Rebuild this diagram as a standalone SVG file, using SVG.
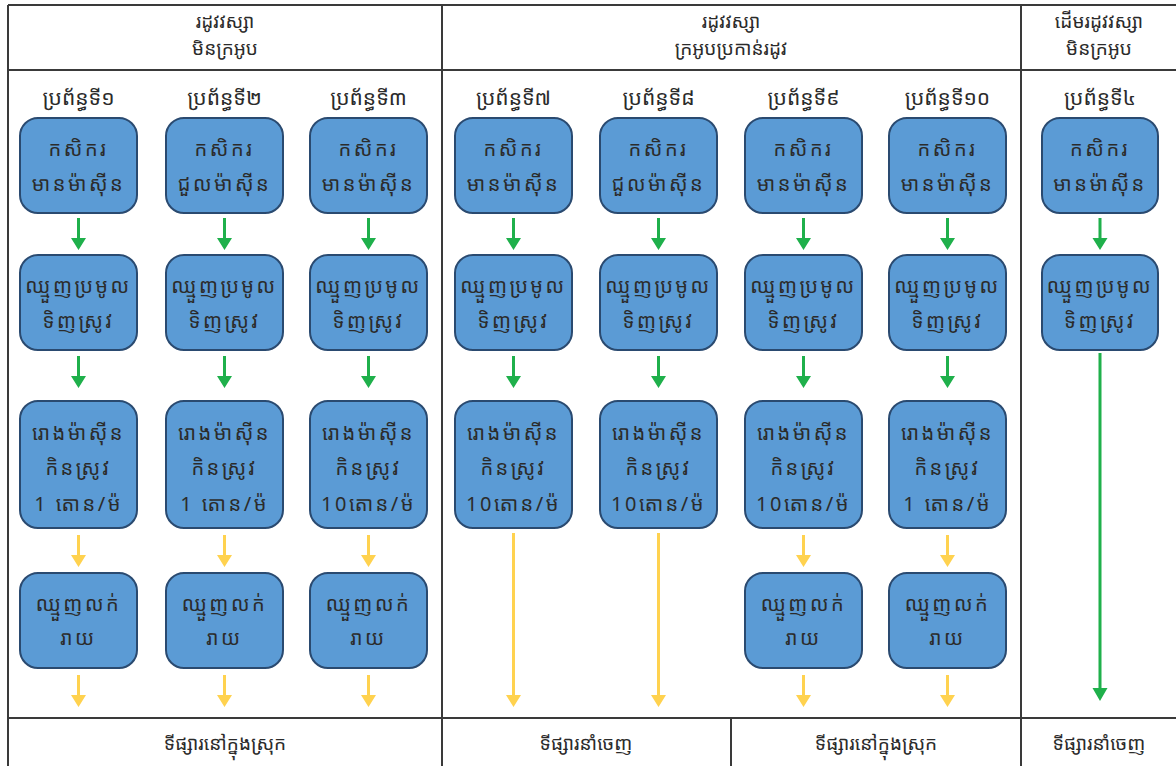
<svg xmlns="http://www.w3.org/2000/svg" width="1176" height="766" viewBox="0 0 1176 766">
<defs>
<style>
.frame{stroke:#3a3a3a;stroke-width:2;fill:none}
.box{fill:#5b9bd5;stroke:#2a4a70;stroke-width:2}
.hd{font-family:"Noto Sans Khmer","Khmer OS","Noto Sans",sans-serif;font-size:19px;fill:#2b2b2b;text-anchor:middle;dominant-baseline:central}
.cl{font-family:"Noto Sans Khmer","Khmer OS","Noto Sans",sans-serif;font-size:21px;fill:#2b2b2b;text-anchor:middle;dominant-baseline:central}
.bt{font-family:"Noto Sans Khmer","Khmer OS","Noto Sans",sans-serif;font-size:20px;fill:#2b2b2b;text-anchor:middle;dominant-baseline:central;letter-spacing:2.5px}
</style>
</defs>
<rect width="1176" height="766" fill="#ffffff"/>
<g id="frame">
<line class="frame" x1="8" y1="5" x2="1176" y2="5"/>
<line class="frame" x1="8" y1="70" x2="1176" y2="70"/>
<line class="frame" x1="8" y1="718" x2="1176" y2="718"/>
<line class="frame" x1="8" y1="5" x2="8" y2="766"/>
<line class="frame" x1="442" y1="5" x2="442" y2="766"/>
<line class="frame" x1="1021" y1="5" x2="1021" y2="766"/>
<line class="frame" x1="731" y1="718" x2="731" y2="766"/>
</g>
<g id="headers">
<text class="hd" x="225" y="21">រដូវវស្សា</text>
<text class="hd" x="225" y="48">មិនក្រអូប</text>
<text class="hd" x="731" y="21">រដូវវស្សា</text>
<text class="hd" x="731" y="48">ក្រអូបប្រកាន់រដូវ</text>
<text class="hd" x="1099" y="21">ដើមរដូវវស្សា</text>
<text class="hd" x="1099" y="48">មិនក្រអូប</text>
<text class="cl" x="78.5" y="97">ប្រព័ន្ធទី១</text>
<text class="cl" x="224.5" y="97">ប្រព័ន្ធទី២</text>
<text class="cl" x="368.5" y="97">ប្រព័ន្ធទី៣</text>
<text class="cl" x="513.5" y="97">ប្រព័ន្ធទី៧</text>
<text class="cl" x="658.5" y="97">ប្រព័ន្ធទី៨</text>
<text class="cl" x="803.5" y="97">ប្រព័ន្ធទី៩</text>
<text class="cl" x="947.5" y="97">ប្រព័ន្ធទី១០</text>
<text class="cl" x="1100" y="97">ប្រព័ន្ធទី៤</text>
<text class="hd" x="225" y="743">ទីផ្សារនៅក្នុងស្រុក</text>
<text class="hd" x="586" y="743">ទីផ្សារនាំចេញ</text>
<text class="hd" x="876" y="743">ទីផ្សារនៅក្នុងស្រុក</text>
<text class="hd" x="1099" y="743">ទីផ្សារនាំចេញ</text>
</g>
<g id="connectors">
<g fill="#1fb04b">
<path d="M77 218h3v20h6l-7.5 12l-7.5-12h6z"/>
<path d="M223 218h3v20h6l-7.5 12l-7.5-12h6z"/>
<path d="M367 218h3v20h6l-7.5 12l-7.5-12h6z"/>
<path d="M512 218h3v20h6l-7.5 12l-7.5-12h6z"/>
<path d="M657 218h3v20h6l-7.5 12l-7.5-12h6z"/>
<path d="M802 218h3v20h6l-7.5 12l-7.5-12h6z"/>
<path d="M946 218h3v20h6l-7.5 12l-7.5-12h6z"/>
<path d="M1098.5 218h3v20h6l-7.5 12l-7.5-12h6z"/>
<path d="M77 356h3v20h6l-7.5 12l-7.5-12h6z"/>
<path d="M223 356h3v20h6l-7.5 12l-7.5-12h6z"/>
<path d="M367 356h3v20h6l-7.5 12l-7.5-12h6z"/>
<path d="M512 356h3v20h6l-7.5 12l-7.5-12h6z"/>
<path d="M657 356h3v20h6l-7.5 12l-7.5-12h6z"/>
<path d="M802 356h3v20h6l-7.5 12l-7.5-12h6z"/>
<path d="M946 356h3v20h6l-7.5 12l-7.5-12h6z"/>
<path d="M1098.5 353h3v335h6l-7.5 13l-7.5-13h6z"/>
</g>
<g fill="#ffd24f">
<path d="M77 535h3v20h6l-7.5 12l-7.5-12h6z"/>
<path d="M223 535h3v20h6l-7.5 12l-7.5-12h6z"/>
<path d="M367 535h3v20h6l-7.5 12l-7.5-12h6z"/>
<path d="M802 535h3v20h6l-7.5 12l-7.5-12h6z"/>
<path d="M946 535h3v20h6l-7.5 12l-7.5-12h6z"/>
<path d="M77 675h3v20h6l-7.5 12l-7.5-12h6z"/>
<path d="M223 675h3v20h6l-7.5 12l-7.5-12h6z"/>
<path d="M367 675h3v20h6l-7.5 12l-7.5-12h6z"/>
<path d="M802 675h3v20h6l-7.5 12l-7.5-12h6z"/>
<path d="M946 675h3v20h6l-7.5 12l-7.5-12h6z"/>
<path d="M512 533h3v162h6l-7.5 12l-7.5-12h6z"/>
<path d="M657 533h3v162h6l-7.5 12l-7.5-12h6z"/>
</g>
</g>
<g id="s1">
<rect class="box" x="20" y="118" width="117" height="95" rx="18"/>
<text class="bt" x="78.5" y="148">កសិករ</text><text class="bt" x="78.5" y="183">មានម៉ាស៊ីន</text>
<rect class="box" x="20" y="255" width="117" height="95" rx="18"/>
<text class="bt" x="78.5" y="285">ឈ្មួញប្រមូល</text><text class="bt" x="78.5" y="320">ទិញស្រូវ</text>
<rect class="box" x="20" y="401" width="117" height="127" rx="18"/>
<text class="bt" x="78.5" y="432">រោងម៉ាស៊ីន</text><text class="bt" x="78.5" y="467">កិនស្រូវ</text><text class="bt" x="78.5" y="503">1 តោន/ម៉</text>
<rect class="box" x="20" y="573" width="117" height="95" rx="18"/>
<text class="bt" x="78.5" y="603">ឈ្មួញលក់</text><text class="bt" x="78.5" y="637">រាយ</text>
</g>
<g id="s2">
<rect class="box" x="166" y="118" width="117" height="95" rx="18"/>
<text class="bt" x="224.5" y="148">កសិករ</text><text class="bt" x="224.5" y="183">ជួលម៉ាស៊ីន</text>
<rect class="box" x="166" y="255" width="117" height="95" rx="18"/>
<text class="bt" x="224.5" y="285">ឈ្មួញប្រមូល</text><text class="bt" x="224.5" y="320">ទិញស្រូវ</text>
<rect class="box" x="166" y="401" width="117" height="127" rx="18"/>
<text class="bt" x="224.5" y="432">រោងម៉ាស៊ីន</text><text class="bt" x="224.5" y="467">កិនស្រូវ</text><text class="bt" x="224.5" y="503">1 តោន/ម៉</text>
<rect class="box" x="166" y="573" width="117" height="95" rx="18"/>
<text class="bt" x="224.5" y="603">ឈ្មួញលក់</text><text class="bt" x="224.5" y="637">រាយ</text>
</g>
<g id="s3">
<rect class="box" x="310" y="118" width="117" height="95" rx="18"/>
<text class="bt" x="368.5" y="148">កសិករ</text><text class="bt" x="368.5" y="183">មានម៉ាស៊ីន</text>
<rect class="box" x="310" y="255" width="117" height="95" rx="18"/>
<text class="bt" x="368.5" y="285">ឈ្មួញប្រមូល</text><text class="bt" x="368.5" y="320">ទិញស្រូវ</text>
<rect class="box" x="310" y="401" width="117" height="127" rx="18"/>
<text class="bt" x="368.5" y="432">រោងម៉ាស៊ីន</text><text class="bt" x="368.5" y="467">កិនស្រូវ</text><text class="bt" x="368.5" y="503">10តោន/ម៉</text>
<rect class="box" x="310" y="573" width="117" height="95" rx="18"/>
<text class="bt" x="368.5" y="603">ឈ្មួញលក់</text><text class="bt" x="368.5" y="637">រាយ</text>
</g>
<g id="s7">
<rect class="box" x="455" y="118" width="117" height="95" rx="18"/>
<text class="bt" x="513.5" y="148">កសិករ</text><text class="bt" x="513.5" y="183">មានម៉ាស៊ីន</text>
<rect class="box" x="455" y="255" width="117" height="95" rx="18"/>
<text class="bt" x="513.5" y="285">ឈ្មួញប្រមូល</text><text class="bt" x="513.5" y="320">ទិញស្រូវ</text>
<rect class="box" x="455" y="401" width="117" height="127" rx="18"/>
<text class="bt" x="513.5" y="432">រោងម៉ាស៊ីន</text><text class="bt" x="513.5" y="467">កិនស្រូវ</text><text class="bt" x="513.5" y="503">10តោន/ម៉</text>
</g>
<g id="s8">
<rect class="box" x="600" y="118" width="117" height="95" rx="18"/>
<text class="bt" x="658.5" y="148">កសិករ</text><text class="bt" x="658.5" y="183">ជួលម៉ាស៊ីន</text>
<rect class="box" x="600" y="255" width="117" height="95" rx="18"/>
<text class="bt" x="658.5" y="285">ឈ្មួញប្រមូល</text><text class="bt" x="658.5" y="320">ទិញស្រូវ</text>
<rect class="box" x="600" y="401" width="117" height="127" rx="18"/>
<text class="bt" x="658.5" y="432">រោងម៉ាស៊ីន</text><text class="bt" x="658.5" y="467">កិនស្រូវ</text><text class="bt" x="658.5" y="503">10តោន/ម៉</text>
</g>
<g id="s9">
<rect class="box" x="745" y="118" width="117" height="95" rx="18"/>
<text class="bt" x="803.5" y="148">កសិករ</text><text class="bt" x="803.5" y="183">មានម៉ាស៊ីន</text>
<rect class="box" x="745" y="255" width="117" height="95" rx="18"/>
<text class="bt" x="803.5" y="285">ឈ្មួញប្រមូល</text><text class="bt" x="803.5" y="320">ទិញស្រូវ</text>
<rect class="box" x="745" y="401" width="117" height="127" rx="18"/>
<text class="bt" x="803.5" y="432">រោងម៉ាស៊ីន</text><text class="bt" x="803.5" y="467">កិនស្រូវ</text><text class="bt" x="803.5" y="503">10តោន/ម៉</text>
<rect class="box" x="745" y="573" width="117" height="95" rx="18"/>
<text class="bt" x="803.5" y="603">ឈ្មួញលក់</text><text class="bt" x="803.5" y="637">រាយ</text>
</g>
<g id="s10">
<rect class="box" x="889" y="118" width="117" height="95" rx="18"/>
<text class="bt" x="947.5" y="148">កសិករ</text><text class="bt" x="947.5" y="183">មានម៉ាស៊ីន</text>
<rect class="box" x="889" y="255" width="117" height="95" rx="18"/>
<text class="bt" x="947.5" y="285">ឈ្មួញប្រមូល</text><text class="bt" x="947.5" y="320">ទិញស្រូវ</text>
<rect class="box" x="889" y="401" width="117" height="127" rx="18"/>
<text class="bt" x="947.5" y="432">រោងម៉ាស៊ីន</text><text class="bt" x="947.5" y="467">កិនស្រូវ</text><text class="bt" x="947.5" y="503">1 តោន/ម៉</text>
<rect class="box" x="889" y="573" width="117" height="95" rx="18"/>
<text class="bt" x="947.5" y="603">ឈ្មួញលក់</text><text class="bt" x="947.5" y="637">រាយ</text>
</g>
<g id="s4">
<rect class="box" x="1042" y="118" width="116" height="95" rx="18"/>
<text class="bt" x="1100" y="148">កសិករ</text><text class="bt" x="1100" y="183">មានម៉ាស៊ីន</text>
<rect class="box" x="1042" y="255" width="116" height="95" rx="18"/>
<text class="bt" x="1100" y="285">ឈ្មួញប្រមូល</text><text class="bt" x="1100" y="320">ទិញស្រូវ</text>
</g>
</svg>
